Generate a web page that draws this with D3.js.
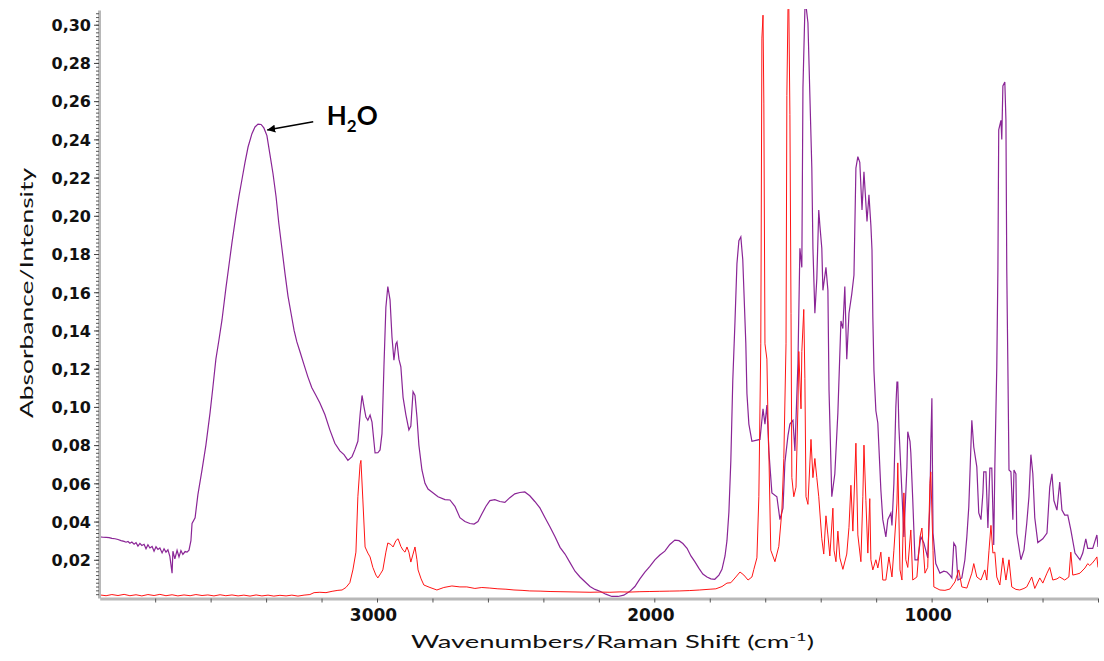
<!DOCTYPE html>
<html><head><meta charset="utf-8">
<script src="https://cdn.jsdelivr.net/npm/d3@7"></script>
<style>
html,body{margin:0;padding:0;background:#fff;}
svg{display:block;}
</style></head>
<body>
<svg id="chart" width="1104" height="661"></svg>
<script>
// ---------- DATA ----------
// IR absorbance spectrum (purple)
const irWavenumber = [3999,3988,3977,3966,3956,3945,3934,3923,3912,3905,3898,3891,3884,3876,3869,3862,3855,3848,3840,3833,3826,3819,3811,3804,3797,3790,3783,3775,3768,3761,3754,3747,3739,3736,3729,3721,3714,3707,3700,3692,3685,3678,3671,3667,3656,3646,3631,3617,3602,3592,3581,3570,3559,3545,3534,3523,3509,3498,3487,3476,3465,3451,3440,3429,3418,3408,3397,3386,3375,3364,3354,3343,3332,3321,3310,3299,3289,3278,3263,3249,3235,3220,3206,3188,3170,3152,3134,3119,3105,3090,3080,3069,3061,3054,3047,3040,3033,3025,3018,3007,2997,2989,2982,2975,2968,2961,2953,2946,2939,2932,2928,2921,2914,2906,2896,2885,2878,2870,2863,2856,2849,2838,2827,2816,2802,2780,2755,2737,2719,2701,2683,2665,2650,2636,2622,2607,2593,2575,2557,2539,2521,2503,2485,2467,2449,2431,2412,2394,2376,2358,2340,2322,2304,2286,2268,2250,2232,2214,2196,2175,2153,2131,2110,2088,2070,2052,2034,2016,1998,1980,1962,1944,1926,1911,1897,1882,1868,1854,1839,1825,1810,1796,1782,1767,1756,1745,1738,1731,1724,1717,1709,1702,1695,1688,1681,1677,1670,1666,1659,1648,1634,1619,1608,1601,1594,1587,1576,1558,1547,1536,1529,1518,1511,1500,1493,1482,1475,1468,1464,1457,1453,1446,1439,1432,1428,1421,1414,1407,1403,1396,1392,1381,1374,1370,1363,1360,1349,1338,1327,1320,1313,1306,1298,1288,1280,1273,1266,1259,1251,1244,1233,1226,1219,1215,1212,1208,1201,1194,1183,1176,1165,1158,1147,1143,1136,1129,1125,1122,1118,1107,1100,1089,1086,1078,1075,1068,1060,1050,1039,1028,1014,1006,1003,999,995,985,970,956,945,934,927,920,913,905,891,880,873,866,855,848,837,830,822,815,812,804,797,790,783,776,772,765,761,758,750,747,743,736,732,729,725,721,714,707,703,696,693,678,667,657,649,642,635,628,617,599,584,574,566,559,548,538,530,520,509,498,483,465,455,444,437,419,404,400];
const irAbsorbance = [0.0320,0.0318,0.0317,0.0316,0.0312,0.0310,0.0306,0.0300,0.0296,0.0292,0.0296,0.0287,0.0293,0.0282,0.0290,0.0272,0.0286,0.0275,0.0281,0.0258,0.0279,0.0262,0.0270,0.0245,0.0268,0.0254,0.0262,0.0236,0.0258,0.0240,0.0252,0.0218,0.0130,0.0245,0.0205,0.0250,0.0215,0.0248,0.0228,0.0243,0.0240,0.0250,0.0300,0.0390,0.0420,0.0540,0.0670,0.0800,0.0970,0.1100,0.1250,0.1350,0.1455,0.1620,0.1740,0.1860,0.2000,0.2100,0.2190,0.2280,0.2360,0.2430,0.2465,0.2480,0.2478,0.2460,0.2420,0.2320,0.2220,0.2100,0.1960,0.1830,0.1700,0.1580,0.1490,0.1400,0.1340,0.1290,0.1220,0.1156,0.1100,0.1060,0.1020,0.0960,0.0880,0.0810,0.0770,0.0750,0.0720,0.0740,0.0775,0.0820,0.0960,0.1060,0.1000,0.0947,0.0930,0.0957,0.0920,0.0759,0.0760,0.0775,0.0860,0.1210,0.1520,0.1630,0.1560,0.1366,0.1245,0.1330,0.1340,0.1250,0.1210,0.1050,0.0960,0.0880,0.0900,0.1080,0.1060,0.0947,0.0800,0.0670,0.0600,0.0570,0.0555,0.0530,0.0515,0.0513,0.0480,0.0420,0.0400,0.0390,0.0387,0.0400,0.0440,0.0480,0.0510,0.0515,0.0505,0.0500,0.0525,0.0545,0.0552,0.0555,0.0535,0.0505,0.0470,0.0420,0.0372,0.0320,0.0265,0.0230,0.0185,0.0140,0.0110,0.0085,0.0060,0.0045,0.0035,0.0020,0.0008,0.0008,0.0015,0.0035,0.0060,0.0100,0.0135,0.0165,0.0200,0.0225,0.0245,0.0280,0.0303,0.0300,0.0285,0.0260,0.0220,0.0190,0.0155,0.0125,0.0110,0.0100,0.0098,0.0120,0.0150,0.0220,0.0300,0.0450,0.0720,0.1140,0.1450,0.1750,0.1870,0.1890,0.1770,0.1610,0.1330,0.1070,0.0910,0.0820,0.0825,0.0830,0.0990,0.0910,0.1010,0.0770,0.0550,0.0530,0.0410,0.0470,0.0710,0.0850,0.0910,0.0930,0.0770,0.1230,0.1830,0.1730,0.2670,0.3080,0.3100,0.3010,0.2630,0.2250,0.1830,0.1490,0.1670,0.2030,0.1950,0.1830,0.1610,0.1730,0.1610,0.1090,0.0700,0.0530,0.0650,0.0970,0.1450,0.1410,0.1630,0.1250,0.1490,0.1590,0.1690,0.2250,0.2310,0.2280,0.2030,0.2230,0.1970,0.2110,0.1950,0.1820,0.1470,0.1190,0.0980,0.0916,0.0565,0.0410,0.0320,0.0410,0.0445,0.0380,0.0600,0.1000,0.1130,0.1130,0.0895,0.0550,0.0320,0.0686,0.0870,0.0820,0.0760,0.0513,0.0200,0.0200,0.0320,0.0288,0.0210,0.0500,0.0800,0.1045,0.0340,0.0180,0.0130,0.0140,0.0136,0.0120,0.0105,0.0288,0.0270,0.0094,0.0105,0.0200,0.0320,0.0476,0.0930,0.0790,0.0686,0.0445,0.0410,0.0550,0.0660,0.0660,0.0366,0.0680,0.0680,0.0277,0.0686,0.1210,0.1716,0.2450,0.2500,0.2400,0.2680,0.2700,0.2500,0.1716,0.1210,0.0670,0.0660,0.0410,0.0670,0.0650,0.0340,0.0200,0.0250,0.0390,0.0530,0.0750,0.0650,0.0420,0.0290,0.0310,0.0340,0.0580,0.0650,0.0510,0.0460,0.0607,0.0460,0.0434,0.0434,0.0356,0.0235,0.0200,0.0235,0.0310,0.0260,0.0260,0.0330,0.0267];

// Raman spectrum (red)
const ramanWavenumber = [3999,3977,3956,3934,3912,3891,3869,3848,3826,3804,3783,3761,3739,3718,3696,3674,3653,3631,3610,3588,3566,3545,3523,3501,3480,3458,3436,3415,3393,3372,3350,3328,3307,3285,3263,3242,3227,3206,3184,3162,3141,3126,3112,3098,3087,3076,3069,3061,3058,3051,3043,3033,3025,3015,3004,2997,2986,2979,2968,2961,2950,2942,2932,2924,2914,2906,2899,2892,2885,2878,2870,2863,2856,2852,2841,2831,2809,2784,2759,2730,2701,2676,2647,2622,2593,2564,2535,2506,2477,2449,2412,2376,2340,2304,2268,2232,2196,2160,2124,2088,2052,2016,1980,1944,1908,1872,1836,1799,1778,1756,1738,1724,1706,1691,1677,1662,1648,1641,1630,1623,1616,1612,1608,1605,1601,1594,1590,1587,1580,1565,1551,1540,1533,1525,1522,1518,1515,1511,1507,1504,1497,1489,1482,1479,1471,1468,1461,1457,1453,1446,1435,1428,1421,1414,1407,1396,1389,1381,1374,1367,1356,1352,1345,1338,1331,1320,1306,1298,1291,1284,1273,1266,1255,1248,1244,1237,1230,1223,1219,1212,1201,1194,1183,1176,1165,1154,1143,1136,1125,1122,1114,1107,1100,1093,1086,1075,1068,1053,1042,1035,1024,1014,1006,1003,995,992,970,952,934,916,902,891,873,855,848,837,822,808,801,793,786,779,772,765,754,743,732,721,711,696,682,667,657,646,639,628,610,599,584,574,563,548,538,520,505,498,491,476,465,447,437,430,422,411,404,400];
const ramanIntensity = [0.0016,0.0012,0.0018,0.0013,0.0019,0.0012,0.0017,0.0011,0.0018,0.0013,0.0019,0.0012,0.0017,0.0011,0.0016,0.0012,0.0018,0.0013,0.0016,0.0011,0.0017,0.0012,0.0016,0.0011,0.0015,0.0010,0.0016,0.0011,0.0015,0.0010,0.0014,0.0011,0.0015,0.0010,0.0015,0.0018,0.0028,0.0030,0.0028,0.0035,0.0040,0.0042,0.0055,0.0080,0.0147,0.0240,0.0530,0.0700,0.0720,0.0513,0.0267,0.0235,0.0215,0.0160,0.0120,0.0105,0.0130,0.0147,0.0240,0.0288,0.0280,0.0267,0.0300,0.0310,0.0270,0.0250,0.0240,0.0267,0.0240,0.0188,0.0230,0.0267,0.0200,0.0147,0.0100,0.0068,0.0055,0.0042,0.0055,0.0063,0.0058,0.0058,0.0050,0.0055,0.0052,0.0048,0.0046,0.0042,0.0040,0.0037,0.0036,0.0034,0.0033,0.0032,0.0031,0.0030,0.0031,0.0030,0.0032,0.0031,0.0033,0.0034,0.0035,0.0036,0.0037,0.0039,0.0042,0.0046,0.0048,0.0060,0.0078,0.0080,0.0110,0.0136,0.0120,0.0094,0.0110,0.0150,0.0210,0.0530,0.1330,0.2930,0.3050,0.2590,0.1330,0.1250,0.0930,0.0770,0.0250,0.0190,0.0270,0.0455,0.0730,0.1330,0.2630,0.3080,0.3100,0.2530,0.1490,0.0630,0.0530,0.0580,0.1010,0.1290,0.0990,0.1290,0.1510,0.1150,0.0530,0.0490,0.0830,0.0630,0.0730,0.0630,0.0530,0.0310,0.0230,0.0430,0.0330,0.0220,0.0470,0.0250,0.0190,0.0350,0.0210,0.0150,0.0230,0.0370,0.0590,0.0350,0.0810,0.0330,0.0190,0.0530,0.0800,0.0510,0.0235,0.0520,0.0200,0.0147,0.0200,0.0157,0.0240,0.0094,0.0094,0.0215,0.0110,0.0250,0.0497,0.0707,0.0147,0.0094,0.0550,0.0200,0.0160,0.0356,0.0094,0.0110,0.0320,0.0366,0.0130,0.0160,0.0600,0.0660,0.0250,0.0058,0.0042,0.0040,0.0047,0.0084,0.0147,0.0058,0.0052,0.0130,0.0180,0.0110,0.0094,0.0147,0.0094,0.0250,0.0380,0.0235,0.0240,0.0110,0.0068,0.0210,0.0094,0.0200,0.0058,0.0045,0.0042,0.0050,0.0058,0.0090,0.0110,0.0050,0.0105,0.0078,0.0130,0.0160,0.0094,0.0100,0.0110,0.0094,0.0110,0.0240,0.0120,0.0125,0.0130,0.0157,0.0180,0.0170,0.0180,0.0200,0.0215,0.0160];

// Axis ticks
const xMajorTicks = [3000, 2000, 1000];
const xMinorTicks = [3800,3600,3400,3200,3000,2800,2600,2400,2200,2000,1800,1600,1400,1200,1000,800,600,400];
const yTickValues = [0.02,0.04,0.06,0.08,0.10,0.12,0.14,0.16,0.18,0.20,0.22,0.24,0.26,0.28,0.30];
const yTickLabels = ["0,02","0,04","0,06","0,08","0,10","0,12","0,14","0,16","0,18","0,20","0,22","0,24","0,26","0,28","0,30"];

// Annotation (data coordinates)
const annotation = {label: "H", sub: "2", tail: "O", textAt: [3181, 0.2477], arrowFrom: [3230, 0.2492], arrowTo: [3396, 0.2449]};

// ---------- DRAW ----------
const svg = d3.select("#chart");
const x = d3.scaleLinear().domain([4000, 400]).range([99.7, 1098]);
const y = d3.scaleLinear().domain([0, 0.3077]).range([598, 10]);

svg.append("defs").append("clipPath").attr("id", "plotClip")
  .append("rect").attr("x", x(4000)).attr("y", y(0.3077) - 1)
  .attr("width", x(400) - x(4000)).attr("height", y(0) - y(0.3077) + 1);

const line = d3.line().x(d => x(d[0])).y(d => y(d[1]));

const plot = svg.append("g").attr("clip-path", "url(#plotClip)");
plot.append("path").datum(d3.zip(irWavenumber, irAbsorbance))
  .attr("fill", "none").attr("stroke", "#8a2596").attr("stroke-width", 1.2)
  .attr("d", line);
plot.append("path").datum(d3.zip(ramanWavenumber, ramanIntensity))
  .attr("fill", "none").attr("stroke", "#ff1414").attr("stroke-width", 1)
  .attr("d", line);

// Y axis: minor ticks
const yMinor = d3.range(1, 154).map(i => i * 0.002);
const yAxisMinor = svg.append("g").attr("transform", `translate(${x(4000) - 0.7},0)`)
  .call(d3.axisLeft(y).tickValues(yMinor).tickSize(3).tickSizeOuter(0).tickFormat(""));
yAxisMinor.select(".domain").attr("stroke", "#b8b8b8").attr("stroke-width", 3);
yAxisMinor.selectAll(".tick line").attr("stroke", "#555").attr("stroke-width", 1);

const yAxisMajor = svg.append("g").attr("transform", `translate(${x(4000) - 0.7},0)`)
  .call(d3.axisLeft(y).tickValues(yTickValues).tickSize(5).tickSizeOuter(0)
    .tickFormat((d, i) => yTickLabels[i]));
yAxisMajor.select(".domain").remove();
yAxisMajor.selectAll(".tick line").attr("stroke", "#444");
yAxisMajor.selectAll(".tick text")
  .attr("x", -8).attr("dy", "0.36em")
  .style("font-family", "'DejaVu Sans', sans-serif").style("font-weight", "bold")
  .style("font-size", "16px").attr("fill", "#111");

// X axis
const xAxis = svg.append("g").attr("transform", `translate(0,${y(0) + 0.5})`)
  .call(d3.axisBottom(x).tickValues(xMinorTicks).tickSize(4).tickSizeOuter(0)
    .tickFormat(d => xMajorTicks.includes(d) ? String(d) : ""));
xAxis.select(".domain").attr("stroke", "#b8b8b8").attr("stroke-width", 3);
xAxis.selectAll(".tick line").attr("stroke", "#555");
xAxis.selectAll(".tick text")
  .attr("x", -4).attr("y", 10).attr("dy", "0.71em")
  .style("font-family", "'DejaVu Sans', sans-serif").style("font-weight", "bold")
  .style("font-size", "17px").attr("fill", "#111");

// Axis titles
const xTitle = svg.append("text")
  .attr("x", 411).attr("y", 648)
  .attr("textLength", 403).attr("lengthAdjust", "spacingAndGlyphs")
  .style("font-family", "Lato, 'Open Sans', sans-serif").style("font-size", "18px")
  .attr("fill", "#111");
xTitle.append("tspan").text("Wavenumbers/Raman Shift (cm");
xTitle.append("tspan").attr("dy", -7).style("font-size", "12px").text("-1");
xTitle.append("tspan").attr("dy", 7).text(")");

svg.append("text")
  .attr("transform", "translate(33,418) rotate(-90)")
  .attr("textLength", 250).attr("lengthAdjust", "spacingAndGlyphs")
  .style("font-family", "Lato, 'Open Sans', sans-serif").style("font-size", "18px")
  .attr("fill", "#111")
  .text("Absorbance/Intensity");

// Annotation
svg.append("defs").append("marker").attr("id", "arrowHead")
  .attr("viewBox", "0 0 10 10").attr("refX", 10).attr("refY", 5)
  .attr("markerWidth", 8).attr("markerHeight", 8).attr("orient", "auto-start-reverse")
  .attr("markerUnits", "userSpaceOnUse")
  .append("path").attr("d", "M0,0 L10,5 L0,10 z").attr("fill", "#000");

svg.append("line")
  .attr("x1", x(annotation.arrowFrom[0])).attr("y1", y(annotation.arrowFrom[1]))
  .attr("x2", x(annotation.arrowTo[0])).attr("y2", y(annotation.arrowTo[1]))
  .attr("stroke", "#000").attr("stroke-width", 1.4)
  .attr("marker-end", "url(#arrowHead)");

const ann = svg.append("text")
  .attr("x", x(annotation.textAt[0])).attr("y", y(annotation.textAt[1]))
  .style("font-family", "Lato, sans-serif").style("font-weight", "bold")
  .style("font-size", "26px").attr("fill", "#000");
ann.append("tspan").text(annotation.label);
ann.append("tspan").attr("dy", 7).style("font-size", "17px").text(annotation.sub);
ann.append("tspan").attr("dy", -7).text(annotation.tail);
</script>
</body></html>
